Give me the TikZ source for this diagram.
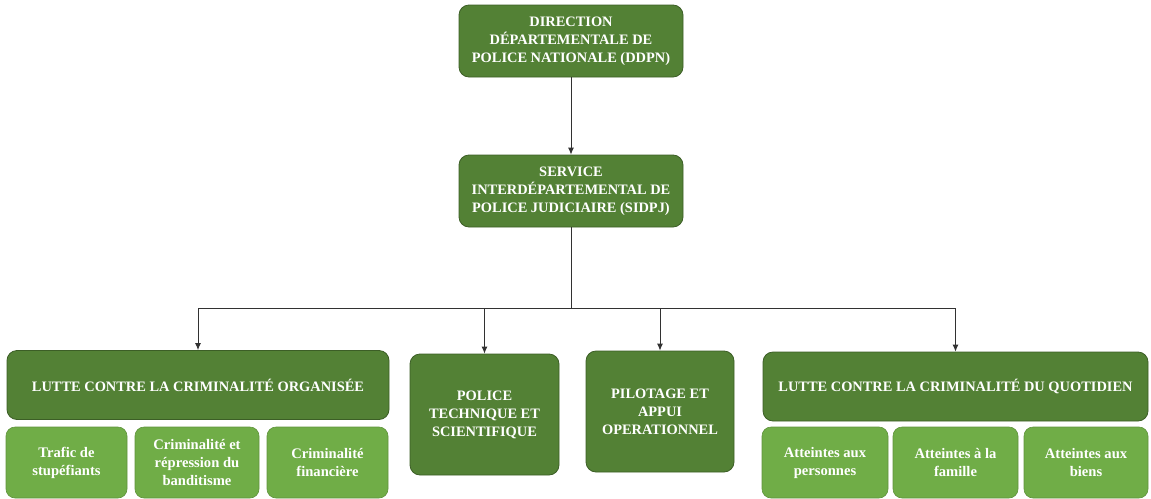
\documentclass[tikz,border=0pt]{standalone}
\usepackage{fontspec}
\setmainfont{Liberation Serif}
\usetikzlibrary{arrows.meta, positioning}
\definecolor{OrgDark}{RGB}{83, 129, 53}
\definecolor{OrgLight}{RGB}{112, 173, 71}
\definecolor{OrgBorder}{RGB}{60, 94, 38}
\definecolor{OrgLine}{RGB}{50, 50, 50}

\tikzset{
  unitbox/.style={draw=OrgBorder, line width=0.8pt, fill=OrgDark, rounded corners=10pt,
    text=white, align=center, inner sep=0pt, font=\fontsize{14.4}{18}\selectfont\bfseries},
  subbox/.style={draw=OrgLight!85!black, line width=0.6pt, fill=OrgLight, rounded corners=9pt,
    text=white, align=center, inner sep=0pt, font=\fontsize{14.6}{18}\selectfont\bfseries},
  link/.style={draw=OrgLine, line width=0.9pt},
  linkarrow/.style={link, -{Latex[length=7pt,width=6pt]}}
}

\begin{document}
\begin{tikzpicture}[x=1pt,y=-1pt]
  \path[use as bounding box] (0,0) rectangle (1151,498);

  % head of the chart
  \node[unitbox, minimum width=224pt, minimum height=72pt] (ddpn) at (571,41)
    {DIRECTION\\DÉPARTEMENTALE DE\\POLICE NATIONALE (DDPN)};
  \node[unitbox, minimum width=224pt, minimum height=72pt] (sidpj) at (571,191)
    {SERVICE\\INTERDÉPARTEMENTAL DE\\POLICE JUDICIAIRE (SIDPJ)};

  % the four branches
  \node[unitbox, minimum width=382pt, minimum height=69pt] (lco) at (198,385)
    {LUTTE CONTRE LA CRIMINALITÉ ORGANISÉE};
  \node[unitbox, minimum width=149pt, minimum height=121pt] (ptec) at (484.5,414.5)
    {POLICE\\TECHNIQUE ET\\SCIENTIFIQUE};
  \node[unitbox, minimum width=148pt, minimum height=121pt] (pilot) at (660,411.5)
    {PILOTAGE ET\\APPUI\\OPERATIONNEL};
  \node[unitbox, minimum width=385pt, minimum height=69pt] (lcq) at (955.5,386.5)
    {LUTTE CONTRE LA CRIMINALITÉ DU QUOTIDIEN};

  % sections under the branches
  \node[subbox, minimum width=121pt, minimum height=71pt] (trafic) at (66.5,462.5)
    {Trafic de\\stupéfiants};
  \node[subbox, minimum width=124pt, minimum height=71pt] (bandit) at (197,462.5)
    {Criminalité et\\répression du\\banditisme};
  \node[subbox, minimum width=121pt, minimum height=71pt] (finance) at (327.5,462.5)
    {Criminalité\\financière};
  \node[subbox, minimum width=126pt, minimum height=71pt] (pers) at (825,462.5)
    {Atteintes aux\\personnes};
  \node[subbox, minimum width=125pt, minimum height=71pt] (famille) at (955.5,462.5)
    {Atteintes à la\\famille};
  \node[subbox, minimum width=124pt, minimum height=71pt] (biens) at (1086,462.5)
    {Atteintes aux\\biens};

  % connectors
  \coordinate (split) at (571,308);
  \draw[linkarrow] (ddpn) -- (sidpj);
  \draw[link] (sidpj) -- (split);
  \draw[linkarrow] (split) -| (lco.north);
  \draw[linkarrow] (split) -| (ptec.north);
  \draw[linkarrow] (split) -| (pilot.north);
  \draw[linkarrow] (split) -| (lcq.north);
\end{tikzpicture}
\end{document}
